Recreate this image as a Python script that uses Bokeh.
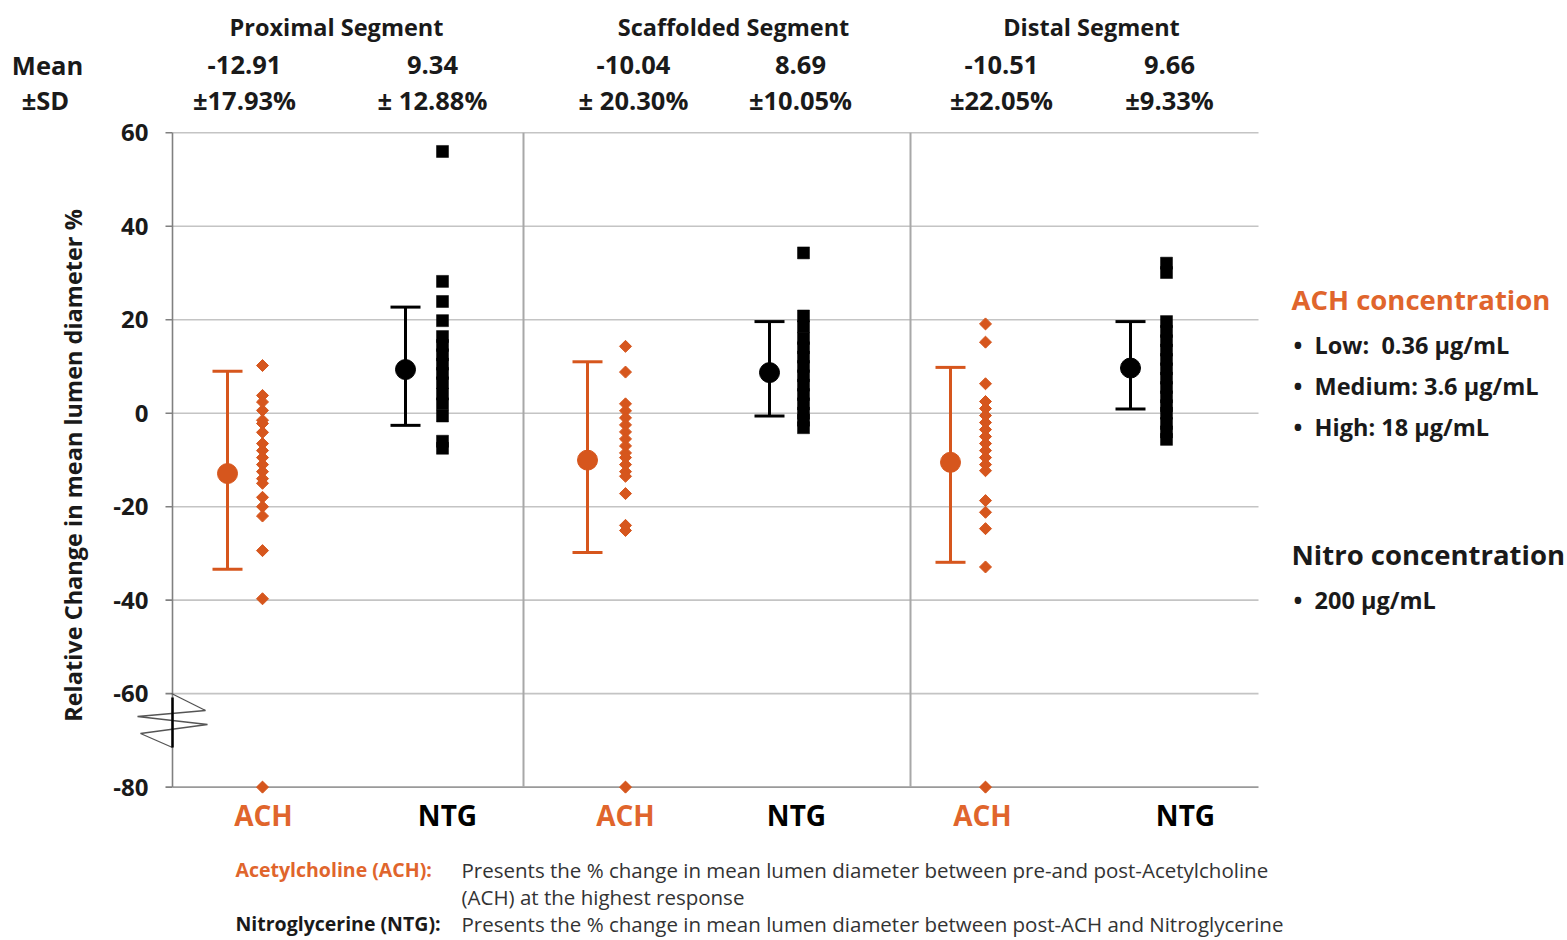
import numpy as np
from bokeh.plotting import figure
from bokeh.models import Range1d
from bokeh.core.properties import value
from bokeh.embed import file_html
from bokeh.resources import INLINE

# ---------------- data ----------------
segments = ["Proximal Segment", "Scaffolded Segment", "Distal Segment"]
treatments = ["ACH", "NTG", "ACH", "NTG", "ACH", "NTG"]
stated_mean = ["-12.91", "9.34", "-10.04", "8.69", "-10.51", "9.66"]
stated_sd = ["±17.93%", "± 12.88%", "± 20.30%", "±10.05%", "±22.05%", "±9.33%"]
group_mean = [-12.91, 9.34, -10.04, 8.69, -10.51, 9.66]
bar_high = [9.0, 22.7, 11.0, 19.6, 9.8, 19.6]
bar_low = [-33.4, -2.6, -29.8, -0.6, -31.9, 0.9]

prox_ach = [10.2, 3.8, 2.4, 0.6, -1.5, -2.2, -4.1, -6.5, -8.0, -9.5, -11.0,
            -12.5, -14.0, -15.0, -18.0, -20.0, -22.0, -29.4, -39.7, -80.0]
prox_ntg = [56.0, 28.2, 23.9, 19.8, 16.4, 14.5, 12.5, 10.5, 8.5, 6.5, 4.1,
            2.0, -0.6, -6.0, -7.5]
scaf_ach = [14.3, 8.8, 2.0, 0.5, -1.0, -2.5, -4.0, -5.5, -7.0, -8.5, -9.5,
            -11.0, -12.5, -13.5, -17.2, -24.0, -25.1, -80.0]
scaf_ntg = [34.3, 20.8, 18.5, 16.0, 14.0, 12.0, 10.0, 8.0, 6.0, 4.0, 2.0,
            0.0, -1.5, -3.1]
dist_ach = [19.1, 15.2, 6.3, 2.5, 1.0, -0.5, -2.0, -3.5, -5.0, -6.5, -8.0,
            -9.5, -11.0, -12.3, -18.7, -21.2, -24.7, -32.9, -80.0]
dist_ntg = [32.1, 30.1, 19.6, 17.5, 15.5, 13.5, 11.5, 9.5, 7.5, 5.5, 3.5,
            1.6, 0.0, -2.2, -4.0, -5.6]
group_points = [prox_ach, prox_ntg, scaf_ach, scaf_ntg, dist_ach, dist_ntg]

y_ticks = [60, 40, 20, 0, -20, -40, -60, -80]
y_title = "Relative Change in mean lumen diameter %"

legend_ach_title = "ACH concentration"
legend_ach_items = ["•\u00a0 Low:\u00a0 0.36 µg/mL", "•\u00a0 Medium: 3.6 µg/mL", "•\u00a0 High: 18 µg/mL"]
legend_ntg_title = "Nitro concentration"
legend_ntg_items = ["•\u00a0 200 µg/mL"]

note_labels = ["Acetylcholine (ACH):", "Nitroglycerine (NTG):"]
note_texts = ["Presents the % change in mean lumen diameter between pre-and post-Acetylcholine",
              "(ACH) at the highest response",
              "Presents the % change in mean lumen diameter between post-ACH and Nitroglycerine"]

# ---------------- layout ----------------
W, H = 1566, 939
ZERO_PX, PX_PER = 412.7, 4.674


def Y(py):
    return (ZERO_PX - py) / PX_PER


ORANGE = "#D6561D"
ORANGE_TXT = "#E0652C"
TXT = "#1a1a1a"
FONT = value("Open Sans")

plot_left, plot_right = 172, 1258
seg_sep_x = [523, 910]
mean_x = [227, 405, 587, 769, 950, 1130]
pts_x = [262, 442, 625, 803, 985, 1166]
cat_label_x = [263, 447, 625, 796, 982, 1185]
seg_title_x = [336, 733, 1091]
stat_x = [244, 432, 633, 800, 1001, 1169]

p = figure(width=W, height=H, x_range=Range1d(0, W), y_range=Range1d(Y(H), Y(0)),
           x_axis_type=None, y_axis_type=None, toolbar_location=None,
           output_backend="svg", min_border=0)
p.outline_line_color = None
p.background_fill_color = "white"
p.border_fill_color = "white"

ymax, ymin = max(y_ticks), min(y_ticks)

# gridlines
grid_vals = [t for t in y_ticks if t != ymin]
p.segment(x0=[plot_left] * len(grid_vals), x1=[plot_right] * len(grid_vals),
          y0=grid_vals, y1=grid_vals, line_color="#C4C4C4", line_width=1.6)
# bottom axis line
p.segment(x0=[plot_left], x1=[plot_right], y0=[ymin], y1=[ymin], line_color="#9A9A9A", line_width=1.6)
# segment separators
p.segment(x0=seg_sep_x, x1=seg_sep_x, y0=[ymin] * 2, y1=[ymax] * 2, line_color="#A8A8A8", line_width=2)
# y axis
p.segment(x0=[plot_left], x1=[plot_left], y0=[ymin], y1=[ymax], line_color="#808080", line_width=1.6)
p.segment(x0=[plot_left - 7] * len(y_ticks), x1=[plot_left] * len(y_ticks), y0=y_ticks, y1=y_ticks,
          line_color="#808080", line_width=1.6)
p.text(x=[plot_left - 24] * len(y_ticks), y=y_ticks, text=[str(t) for t in y_ticks],
       text_font=FONT, text_font_size="24px", text_font_style="bold", text_align="right",
       text_baseline="middle", text_color=TXT)

# axis break mark
zz_px = [(171, 693), (205, 710), (137, 716), (207, 724), (140, 733), (172, 747)]
p.line(x=[a for a, b in zz_px], y=[Y(b) for a, b in zz_px], line_color="#555555", line_width=1.3)
p.segment(x0=[plot_left], x1=[plot_left], y0=[Y(697)], y1=[Y(747)], line_color="black", line_width=2.5)

# y title
p.text(x=[72], y=[Y(465)], text=[y_title], angle=np.pi / 2, text_font=FONT, text_font_size="23.5px",
       text_font_style="bold", text_align="center", text_baseline="middle", text_color=TXT)

# error bars, means, points
for i in range(6):
    col = ORANGE if treatments[i] == "ACH" else "black"
    mx = mean_x[i]
    p.segment(x0=[mx], x1=[mx], y0=[bar_low[i]], y1=[bar_high[i]], line_color=col, line_width=3)
    p.segment(x0=[mx - 15] * 2, x1=[mx + 15] * 2, y0=[bar_low[i], bar_high[i]],
              y1=[bar_low[i], bar_high[i]], line_color=col, line_width=3)
    p.scatter(x=[mx], y=[group_mean[i]], marker="circle", size=20, fill_color=col, line_color=col)
    vals = group_points[i]
    if treatments[i] == "ACH":
        p.scatter(x=[pts_x[i]] * len(vals), y=vals, marker="square", angle=np.pi / 4, size=8.5,
                  fill_color=ORANGE, line_color=ORANGE)
    else:
        p.scatter(x=[pts_x[i]] * len(vals), y=vals, marker="square", size=12,
                  fill_color="black", line_color="black", line_width=0.5)

# category labels
p.text(x=cat_label_x, y=[Y(814)] * 6, text=treatments, text_font=FONT, text_font_size="28px",
       text_font_style="bold", text_align="center", text_baseline="middle",
       text_color=[ORANGE_TXT if t == "ACH" else "black" for t in treatments])

# top header
p.text(x=seg_title_x, y=[Y(26)] * 3, text=segments, text_font=FONT, text_font_size="23.5px",
       text_align="center", text_baseline="middle", text_color=TXT, text_font_style="bold")
p.text(x=[47, 45], y=[Y(64), Y(99)], text=["Mean", "±SD"], text_font=FONT, text_font_size="25.5px",
       text_font_style="bold", text_align="center", text_baseline="middle", text_color=TXT)
p.text(x=stat_x, y=[Y(64)] * 6, text=stated_mean, text_font=FONT, text_font_size="25.5px",
       text_font_style="bold", text_align="center", text_baseline="middle", text_color=TXT)
p.text(x=stat_x, y=[Y(99)] * 6, text=stated_sd, text_font=FONT, text_font_size="25.5px",
       text_font_style="bold", text_align="center", text_baseline="middle", text_color=TXT)

# legend block
p.text(x=[1291], y=[Y(299)], text=[legend_ach_title], text_font=FONT, text_font_size="27.5px",
       text_font_style="bold", text_align="left", text_baseline="middle", text_color=ORANGE_TXT)
p.text(x=[1293] * 3, y=[Y(344), Y(385), Y(426)], text=legend_ach_items, text_font=FONT,
       text_font_size="23.5px", text_font_style="bold", text_align="left", text_baseline="middle",
       text_color=TXT)
p.text(x=[1291], y=[Y(554)], text=[legend_ntg_title], text_font=FONT, text_font_size="27.5px",
       text_font_style="bold", text_align="left", text_baseline="middle", text_color=TXT)
p.text(x=[1293], y=[Y(599)], text=legend_ntg_items, text_font=FONT, text_font_size="23.5px",
       text_font_style="bold", text_align="left", text_baseline="middle", text_color=TXT)

# footnote
p.text(x=[235], y=[Y(869)], text=[note_labels[0]], text_font=FONT, text_font_size="19.5px",
       text_font_style="bold", text_align="left", text_baseline="middle", text_color=ORANGE_TXT)
p.text(x=[235], y=[Y(923)], text=[note_labels[1]], text_font=FONT, text_font_size="19.5px",
       text_font_style="bold", text_align="left", text_baseline="middle", text_color=TXT)
p.text(x=[461] * 3, y=[Y(869), Y(896), Y(923)], text=note_texts, text_font=FONT,
       text_font_size="20.5px", text_align="left", text_baseline="middle", text_color="#333333")

open("out.html", "w").write(file_html(p, INLINE))
